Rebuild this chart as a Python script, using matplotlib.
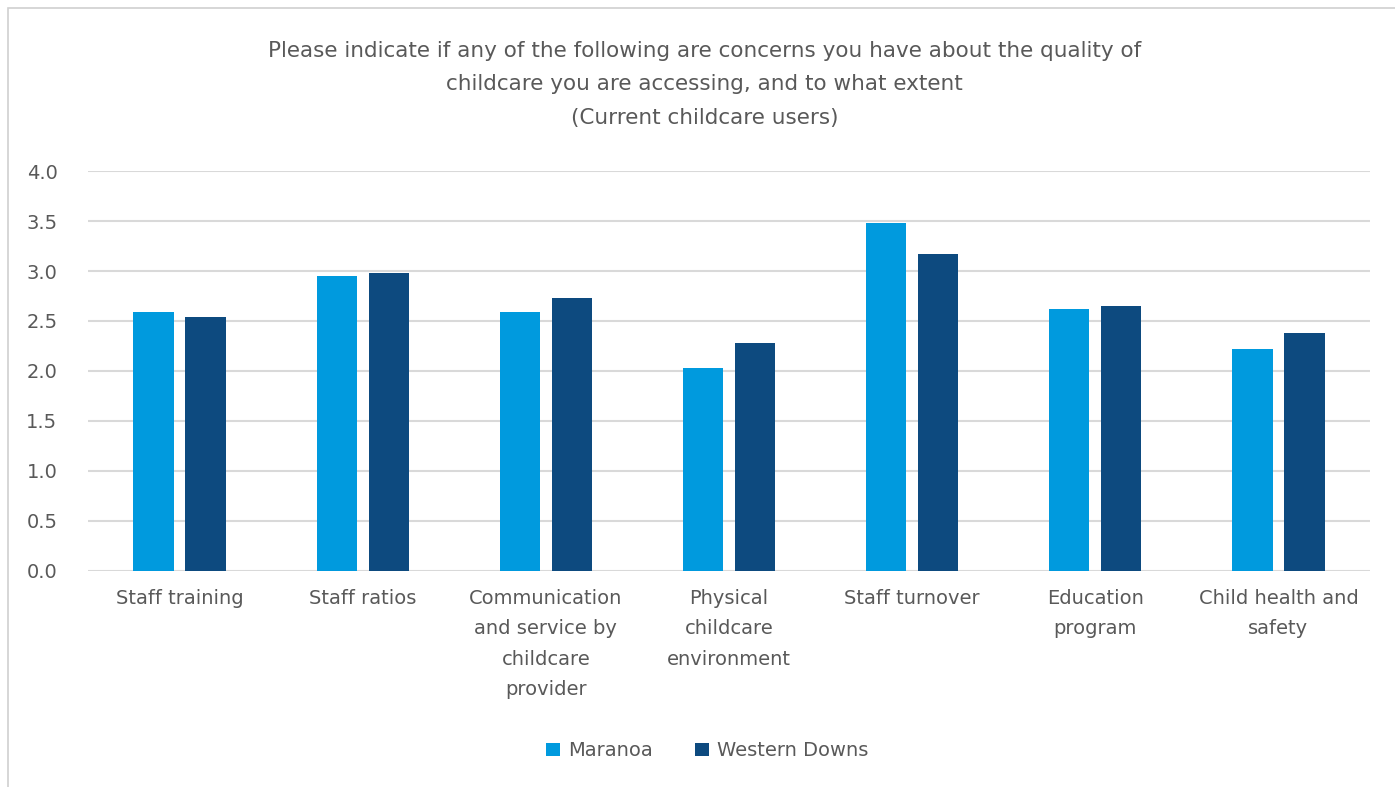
import matplotlib.pyplot as plt
import numpy as np
from matplotlib.patches import Rectangle

categories = ["Staff training", "Staff ratios",
              "Communication\nand service by\nchildcare\nprovider",
              "Physical\nchildcare\nenvironment", "Staff turnover",
              "Education\nprogram", "Child health and\nsafety"]
maranoa = [2.59, 2.95, 2.59, 2.03, 3.48, 2.62, 2.22]
western_downs = [2.54, 2.98, 2.73, 2.28, 3.17, 2.65, 2.38]
yticks = [0.0, 0.5, 1.0, 1.5, 2.0, 2.5, 3.0, 3.5, 4.0]

text_color = "#595959"
plt.rcParams['font.family'] = ['DejaVu Sans']

fig = plt.figure(figsize=(13.95, 7.87), dpi=100)
ax = fig.add_axes([0.0631, 0.2745, 0.919, 0.5082])

# light frame around the chart, like the source export
fig.patches.append(Rectangle((0.006, -0.01), 1.0, 1.0, transform=fig.transFigure,
                             fill=False, edgecolor="#d0d0d0", linewidth=1.2))

x = np.arange(len(categories))
w = 0.22
ax.bar(x - 0.142, maranoa, w, color="#009ADE", label="Maranoa", zorder=3)
ax.bar(x + 0.142, western_downs, w, color="#0D4A7F", label="Western Downs", zorder=3)

ax.set_xlim(-0.5, len(categories) - 0.5)
ax.set_ylim(0, 4.0)
ax.set_yticks(yticks)
ax.set_yticklabels([f"{v:.1f}" for v in yticks])
ax.yaxis.grid(True, color="#d9d9d9", linewidth=1.5, zorder=0)
ax.set_xticks(x)
ax.set_xticklabels(categories, linespacing=1.75)
ax.tick_params(axis="both", length=0, labelsize=14, colors=text_color)
ax.tick_params(axis="x", pad=13)
ax.tick_params(axis="y", pad=22)
for s in ax.spines.values():
    s.set_visible(False)

fig.text(0.505, 0.893,
         "Please indicate if any of the following are concerns you have about the quality of\n"
         "childcare you are accessing, and to what extent\n(Current childcare users)",
         ha="center", va="center", fontsize=15.5, color=text_color, linespacing=1.85)

fig.legend(loc="center", bbox_to_anchor=(0.507, 0.046), ncol=2, frameon=False,
           fontsize=14, labelcolor=text_color, handlelength=0.7, handleheight=0.7,
           handletextpad=0.4, columnspacing=2.2)

fig.savefig("out.png", dpi=100)
